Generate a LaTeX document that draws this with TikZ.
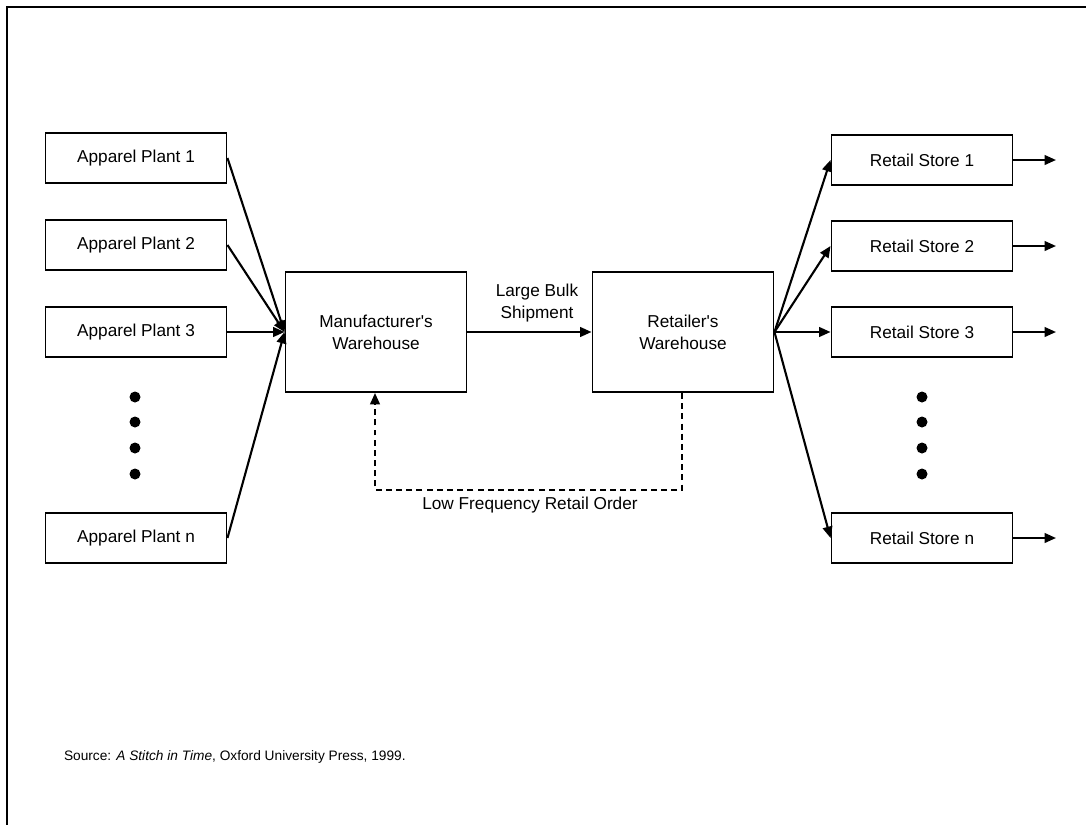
\documentclass[tikz,border=0pt]{standalone}
\usepackage{fontspec}
\setmainfont{Liberation Sans}[Ligatures=TeXOff]
\usetikzlibrary{arrows.meta}
\begin{document}
\begin{tikzpicture}[x=0.02cm,y=-0.02cm,
  line width=1.2pt,
  box/.style={draw=black,line width=1.1pt,minimum width=181*0.02cm,minimum height=50*0.02cm,
    inner sep=0pt,font=\fontsize{9.8}{12.5}\selectfont,align=center},
  bigbox/.style={box,minimum height=120*0.02cm},
  flow/.style={-{Triangle[length=6.5pt,width=5.5pt]},line width=1.2pt},
  order/.style={flow,dash pattern=on 3.4pt off 2.4pt},
  lbl/.style={font=\fontsize{9.8}{12.5}\selectfont,align=center,inner sep=0pt},
  dot/.style={circle,fill=black,inner sep=0pt,minimum size=11*0.02cm}]

% page area and frame (top and left rules)
\useasboundingbox (0,0) rectangle (1086,825);
\draw[line width=1.5pt] (7,825) -- (7,7) -- (1086,7);

% apparel plants
\node[box] (p1) at (136,158) {Apparel Plant 1};
\node[box] (p2) at (136,245) {Apparel Plant 2};
\node[box] (p3) at (136,332) {Apparel Plant 3};
\node[box] (pn) at (136,538) {Apparel Plant n};
\node[dot] (pd1) at (135,397) {};
\node[dot] (pd2) at (135,422) {};
\node[dot] (pd3) at (135,448) {};
\node[dot] (pd4) at (135,474) {};

% warehouses
\node[bigbox] (mw) at (376,332) {Manufacturer's\\Warehouse};
\node[bigbox] (rw) at (683,332) {Retailer's\\Warehouse};

% retail stores
\node[box] (s1) at (922,160) {Retail Store 1};
\node[box] (s2) at (922,246) {Retail Store 2};
\node[box] (s3) at (922,332) {Retail Store 3};
\node[box] (sn) at (922,538) {Retail Store n};
\node[dot] (sd1) at (922,397) {};
\node[dot] (sd2) at (922,422) {};
\node[dot] (sd3) at (922,448) {};
\node[dot] (sd4) at (922,474) {};

% outgoing ends
\coordinate (o1) at (1056,160);
\coordinate (o2) at (1056,246);
\coordinate (o3) at (1056,332);
\coordinate (on) at (1056,538);

% plants feed the manufacturer's warehouse
\foreach \p in {p1,p2,p3,pn} \draw[flow] (\p.east) -- (mw.west);

% bulk shipment
\draw[flow] (mw.east) -- (rw.west);
\node[lbl] (bulk) at (537,303) {Large Bulk\\Shipment};

% retailer's warehouse feeds the stores
\foreach \s in {s1,s2,s3,sn} \draw[flow] (rw.east) -- (\s.west);
\draw[flow] (s1.east) -- (o1);
\draw[flow] (s2.east) -- (o2);
\draw[flow] (s3.east) -- (o3);
\draw[flow] (sn.east) -- (on);

% retail order loop
\coordinate (ob) at (375,490);
\draw[order] (rw.south -| 682,0) -- (682,490) -- (ob) -- (mw.south -| ob);
\node[lbl,anchor=base] (ordlbl) at (530,509) {Low Frequency Retail Order};

% source note
\node[anchor=base west,inner sep=0pt,font=\fontsize{7.8}{9}\selectfont] (src) at (63,760)
  {Source: \textit{A Stitch in Time}, Oxford University Press, 1999.};
\end{tikzpicture}
\end{document}
